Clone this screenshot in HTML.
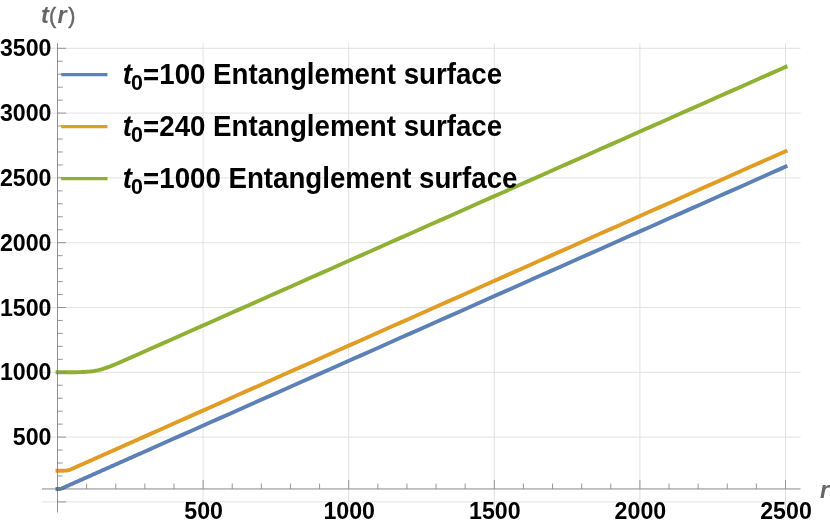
<!DOCTYPE html>
<html><head><meta charset="utf-8"><title>plot</title>
<style>
html,body{margin:0;padding:0;background:#fff;}
body{width:830px;height:528px;overflow:hidden;font-family:"Liberation Sans",sans-serif;}
svg{display:block;will-change:transform;}
text{font-family:"Liberation Sans",sans-serif;font-weight:bold;}
</style></head><body>
<svg width="830" height="528" viewBox="0 0 830 528">

<g stroke="#e2e2e2" stroke-width="1" fill="none">
<line x1="203.10" y1="43.30" x2="203.10" y2="512.50"/>
<line x1="348.70" y1="43.30" x2="348.70" y2="512.50"/>
<line x1="494.30" y1="43.30" x2="494.30" y2="512.50"/>
<line x1="639.90" y1="43.30" x2="639.90" y2="512.50"/>
<line x1="785.50" y1="43.30" x2="785.50" y2="512.50"/>
<line x1="42.00" y1="501.90" x2="800.60" y2="501.90"/>
<line x1="42.00" y1="437.10" x2="800.60" y2="437.10"/>
<line x1="42.00" y1="372.30" x2="800.60" y2="372.30"/>
<line x1="42.00" y1="307.50" x2="800.60" y2="307.50"/>
<line x1="42.00" y1="242.70" x2="800.60" y2="242.70"/>
<line x1="42.00" y1="177.90" x2="800.60" y2="177.90"/>
<line x1="42.00" y1="113.10" x2="800.60" y2="113.10"/>
<line x1="42.00" y1="48.30" x2="800.60" y2="48.30"/>
</g>
<g stroke="#b5b5b5" stroke-width="1" fill="none">
<line x1="57.50" y1="43.30" x2="57.50" y2="512.50"/>
<line x1="42.00" y1="488.94" x2="800.60" y2="488.94"/>
</g>
<g fill="none" stroke-width="3.9" stroke-linejoin="round" stroke-linecap="square">
<path stroke="#5E81B5" d="M57.50,489.00 L58.50,488.99 L59.50,488.95 L60.50,488.82 L61.50,488.51 L62.50,488.10 L63.50,487.66 L64.50,487.22 L65.50,486.78 L66.50,486.33 L67.50,485.89 L68.50,485.44 L69.50,485.00 L70.50,484.55 L71.50,484.11 L72.50,483.66 L73.50,483.22 L74.50,482.78 L75.50,482.33 L76.50,481.89 L77.50,481.44 L78.50,481.00 L79.50,480.55 L80.50,480.11 L81.50,479.66 L82.50,479.22 L83.50,478.77 L84.50,478.33 L85.50,477.88 L86.50,477.44 L87.50,477.00 L88.50,476.55 L89.50,476.11 L90.50,475.66 L91.50,475.22 L92.50,474.77 L93.50,474.33 L94.50,473.88 L95.50,473.44 L96.50,472.99 L97.50,472.55 L98.50,472.11 L99.50,471.66 L100.50,471.22 L101.50,470.77 L102.50,470.33 L103.50,469.88 L104.50,469.44 L105.50,468.99 L106.50,468.55 L107.50,468.10 L108.50,467.66 L109.50,467.21 L110.50,466.77 L111.50,466.33 L112.50,465.88 L113.50,465.44 L114.50,464.99 L115.50,464.55 L116.50,464.10 L117.50,463.66 L118.50,463.21 L119.50,462.77 L120.50,462.32 L121.50,461.88 L122.50,461.43 L123.50,460.99 L124.50,460.55 L125.50,460.10 L126.50,459.66 L127.50,459.21 L128.50,458.77 L129.50,458.32 L130.50,457.88 L131.50,457.43 L132.50,456.99 L133.50,456.54 L134.50,456.10 L135.50,455.65 L136.50,455.21 L137.50,454.77 L138.50,454.32 L139.50,453.88 L140.50,453.43 L150.50,448.99 L160.50,444.54 L170.50,440.09 L180.50,435.65 L190.50,431.20 L200.50,426.76 L210.50,422.31 L220.50,417.86 L230.50,413.42 L240.50,408.97 L250.50,404.53 L260.50,400.08 L270.50,395.63 L280.50,391.19 L290.50,386.74 L300.50,382.30 L310.50,377.85 L320.50,373.40 L330.50,368.96 L340.50,364.51 L350.50,360.07 L360.50,355.62 L370.50,351.17 L380.50,346.73 L390.50,342.28 L400.50,337.84 L410.50,333.39 L420.50,328.94 L430.50,324.50 L440.50,320.05 L450.50,315.61 L460.50,311.16 L470.50,306.71 L480.50,302.27 L490.50,297.82 L500.50,293.38 L510.50,288.93 L520.50,284.48 L530.50,280.04 L540.50,275.59 L550.50,271.15 L560.50,266.70 L570.50,262.25 L580.50,257.81 L590.50,253.36 L600.50,248.92 L610.50,244.47 L620.50,240.02 L630.50,235.58 L640.50,231.13 L650.50,226.69 L660.50,222.24 L670.50,217.79 L680.50,213.35 L690.50,208.90 L700.50,204.46 L710.50,200.01 L720.50,195.56 L730.50,191.12 L740.50,186.67 L750.50,182.23 L760.50,177.78 L770.50,173.33 L780.50,168.89 L785.60,166.62"/>
<path stroke="#E19C24" d="M57.50,470.70 L58.50,470.70 L59.50,470.70 L60.50,470.70 L61.50,470.70 L62.50,470.69 L63.50,470.69 L64.50,470.67 L65.50,470.63 L66.50,470.55 L67.50,470.40 L68.50,470.16 L69.50,469.84 L70.50,469.46 L71.50,469.04 L72.50,468.61 L73.50,468.17 L74.50,467.73 L75.50,467.28 L76.50,466.84 L77.50,466.40 L78.50,465.95 L79.50,465.51 L80.50,465.06 L81.50,464.62 L82.50,464.17 L83.50,463.72 L84.50,463.28 L85.50,462.83 L86.50,462.39 L87.50,461.94 L88.50,461.50 L89.50,461.05 L90.50,460.61 L91.50,460.16 L92.50,459.72 L93.50,459.27 L94.50,458.83 L95.50,458.38 L96.50,457.94 L97.50,457.49 L98.50,457.05 L99.50,456.60 L100.50,456.16 L101.50,455.71 L102.50,455.27 L103.50,454.82 L104.50,454.38 L105.50,453.93 L106.50,453.49 L107.50,453.04 L108.50,452.60 L109.50,452.15 L110.50,451.71 L111.50,451.26 L112.50,450.82 L113.50,450.37 L114.50,449.93 L115.50,449.48 L116.50,449.04 L117.50,448.59 L118.50,448.15 L119.50,447.70 L120.50,447.26 L121.50,446.81 L122.50,446.36 L123.50,445.92 L124.50,445.47 L125.50,445.03 L126.50,444.58 L127.50,444.14 L128.50,443.69 L129.50,443.25 L130.50,442.80 L131.50,442.36 L132.50,441.91 L133.50,441.47 L134.50,441.02 L135.50,440.58 L136.50,440.13 L137.50,439.69 L138.50,439.24 L139.50,438.80 L140.50,438.35 L150.50,433.90 L160.50,429.45 L170.50,425.00 L180.50,420.55 L190.50,416.10 L200.50,411.64 L210.50,407.19 L220.50,402.74 L230.50,398.29 L240.50,393.84 L250.50,389.39 L260.50,384.94 L270.50,380.49 L280.50,376.03 L290.50,371.58 L300.50,367.13 L310.50,362.68 L320.50,358.23 L330.50,353.78 L340.50,349.33 L350.50,344.88 L360.50,340.42 L370.50,335.97 L380.50,331.52 L390.50,327.07 L400.50,322.62 L410.50,318.17 L420.50,313.72 L430.50,309.26 L440.50,304.81 L450.50,300.36 L460.50,295.91 L470.50,291.46 L480.50,287.01 L490.50,282.56 L500.50,278.11 L510.50,273.65 L520.50,269.20 L530.50,264.75 L540.50,260.30 L550.50,255.85 L560.50,251.40 L570.50,246.95 L580.50,242.50 L590.50,238.04 L600.50,233.59 L610.50,229.14 L620.50,224.69 L630.50,220.24 L640.50,215.79 L650.50,211.34 L660.50,206.88 L670.50,202.43 L680.50,197.98 L690.50,193.53 L700.50,189.08 L710.50,184.63 L720.50,180.18 L730.50,175.73 L740.50,171.27 L750.50,166.82 L760.50,162.37 L770.50,157.92 L780.50,153.47 L785.60,151.20"/>
<path stroke="#8FB032" d="M57.50,372.29 L58.50,372.29 L59.50,372.29 L60.50,372.29 L61.50,372.29 L62.50,372.29 L63.50,372.28 L64.50,372.28 L65.50,372.28 L66.50,372.28 L67.50,372.27 L68.50,372.27 L69.50,372.26 L70.50,372.26 L71.50,372.25 L72.50,372.24 L73.50,372.23 L74.50,372.22 L75.50,372.21 L76.50,372.19 L77.50,372.17 L78.50,372.15 L79.50,372.13 L80.50,372.10 L81.50,372.07 L82.50,372.03 L83.50,371.99 L84.50,371.94 L85.50,371.89 L86.50,371.82 L87.50,371.75 L88.50,371.67 L89.50,371.58 L90.50,371.47 L91.50,371.35 L92.50,371.22 L93.50,371.08 L94.50,370.92 L95.50,370.74 L96.50,370.54 L97.50,370.33 L98.50,370.11 L99.50,369.86 L100.50,369.60 L101.50,369.32 L102.50,369.03 L103.50,368.72 L104.50,368.40 L105.50,368.06 L106.50,367.71 L107.50,367.35 L108.50,366.99 L109.50,366.61 L110.50,366.22 L111.50,365.83 L112.50,365.43 L113.50,365.02 L114.50,364.61 L115.50,364.20 L116.50,363.78 L117.50,363.35 L118.50,362.93 L119.50,362.50 L120.50,362.07 L121.50,361.64 L122.50,361.21 L123.50,360.77 L124.50,360.33 L125.50,359.90 L126.50,359.46 L127.50,359.02 L128.50,358.58 L129.50,358.14 L130.50,357.70 L131.50,357.26 L132.50,356.82 L133.50,356.37 L134.50,355.93 L135.50,355.49 L136.50,355.05 L137.50,354.60 L138.50,354.16 L139.50,353.72 L140.50,353.27 L150.50,348.84 L160.50,344.40 L170.50,339.96 L180.50,335.52 L190.50,331.08 L200.50,326.64 L210.50,322.20 L220.50,317.76 L230.50,313.32 L240.50,308.88 L250.50,304.45 L260.50,300.01 L270.50,295.57 L280.50,291.13 L290.50,286.69 L300.50,282.25 L310.50,277.81 L320.50,273.37 L330.50,268.93 L340.50,264.49 L350.50,260.05 L360.50,255.61 L370.50,251.17 L380.50,246.73 L390.50,242.30 L400.50,237.86 L410.50,233.42 L420.50,228.98 L430.50,224.54 L440.50,220.10 L450.50,215.66 L460.50,211.22 L470.50,206.78 L480.50,202.34 L490.50,197.90 L500.50,193.46 L510.50,189.02 L520.50,184.58 L530.50,180.14 L540.50,175.71 L550.50,171.27 L560.50,166.83 L570.50,162.39 L580.50,157.95 L590.50,153.51 L600.50,149.07 L610.50,144.63 L620.50,140.19 L630.50,135.75 L640.50,131.31 L650.50,126.87 L660.50,122.43 L670.50,117.99 L680.50,113.56 L690.50,109.12 L700.50,104.68 L710.50,100.24 L720.50,95.80 L730.50,91.36 L740.50,86.92 L750.50,82.48 L760.50,78.04 L770.50,73.60 L780.50,69.16 L785.60,66.90"/>
</g>
<g stroke="#858585" stroke-width="0.85" fill="none">
<line x1="57.50" y1="43.30" x2="57.50" y2="512.50" stroke="#000" stroke-opacity="0.2" stroke-width="1"/>
<line x1="42.00" y1="488.94" x2="800.60" y2="488.94" stroke="#000" stroke-opacity="0.2" stroke-width="1"/>
<line x1="86.62" y1="488.94" x2="86.62" y2="483.54"/>
<line x1="115.74" y1="488.94" x2="115.74" y2="483.54"/>
<line x1="144.86" y1="488.94" x2="144.86" y2="483.54"/>
<line x1="173.98" y1="488.94" x2="173.98" y2="483.54"/>
<line x1="203.10" y1="488.94" x2="203.10" y2="480.14"/>
<line x1="232.22" y1="488.94" x2="232.22" y2="483.54"/>
<line x1="261.34" y1="488.94" x2="261.34" y2="483.54"/>
<line x1="290.46" y1="488.94" x2="290.46" y2="483.54"/>
<line x1="319.58" y1="488.94" x2="319.58" y2="483.54"/>
<line x1="348.70" y1="488.94" x2="348.70" y2="480.14"/>
<line x1="377.82" y1="488.94" x2="377.82" y2="483.54"/>
<line x1="406.94" y1="488.94" x2="406.94" y2="483.54"/>
<line x1="436.06" y1="488.94" x2="436.06" y2="483.54"/>
<line x1="465.18" y1="488.94" x2="465.18" y2="483.54"/>
<line x1="494.30" y1="488.94" x2="494.30" y2="480.14"/>
<line x1="523.42" y1="488.94" x2="523.42" y2="483.54"/>
<line x1="552.54" y1="488.94" x2="552.54" y2="483.54"/>
<line x1="581.66" y1="488.94" x2="581.66" y2="483.54"/>
<line x1="610.78" y1="488.94" x2="610.78" y2="483.54"/>
<line x1="639.90" y1="488.94" x2="639.90" y2="480.14"/>
<line x1="669.02" y1="488.94" x2="669.02" y2="483.54"/>
<line x1="698.14" y1="488.94" x2="698.14" y2="483.54"/>
<line x1="727.26" y1="488.94" x2="727.26" y2="483.54"/>
<line x1="756.38" y1="488.94" x2="756.38" y2="483.54"/>
<line x1="785.50" y1="488.94" x2="785.50" y2="480.14"/>
<line x1="57.50" y1="501.90" x2="66.10" y2="501.90"/>
<line x1="57.50" y1="488.94" x2="62.70" y2="488.94"/>
<line x1="57.50" y1="475.98" x2="62.70" y2="475.98"/>
<line x1="57.50" y1="463.02" x2="62.70" y2="463.02"/>
<line x1="57.50" y1="450.06" x2="62.70" y2="450.06"/>
<line x1="57.50" y1="437.10" x2="66.10" y2="437.10"/>
<line x1="57.50" y1="424.14" x2="62.70" y2="424.14"/>
<line x1="57.50" y1="411.18" x2="62.70" y2="411.18"/>
<line x1="57.50" y1="398.22" x2="62.70" y2="398.22"/>
<line x1="57.50" y1="385.26" x2="62.70" y2="385.26"/>
<line x1="57.50" y1="372.30" x2="66.10" y2="372.30"/>
<line x1="57.50" y1="359.34" x2="62.70" y2="359.34"/>
<line x1="57.50" y1="346.38" x2="62.70" y2="346.38"/>
<line x1="57.50" y1="333.42" x2="62.70" y2="333.42"/>
<line x1="57.50" y1="320.46" x2="62.70" y2="320.46"/>
<line x1="57.50" y1="307.50" x2="66.10" y2="307.50"/>
<line x1="57.50" y1="294.54" x2="62.70" y2="294.54"/>
<line x1="57.50" y1="281.58" x2="62.70" y2="281.58"/>
<line x1="57.50" y1="268.62" x2="62.70" y2="268.62"/>
<line x1="57.50" y1="255.66" x2="62.70" y2="255.66"/>
<line x1="57.50" y1="242.70" x2="66.10" y2="242.70"/>
<line x1="57.50" y1="229.74" x2="62.70" y2="229.74"/>
<line x1="57.50" y1="216.78" x2="62.70" y2="216.78"/>
<line x1="57.50" y1="203.82" x2="62.70" y2="203.82"/>
<line x1="57.50" y1="190.86" x2="62.70" y2="190.86"/>
<line x1="57.50" y1="177.90" x2="66.10" y2="177.90"/>
<line x1="57.50" y1="164.94" x2="62.70" y2="164.94"/>
<line x1="57.50" y1="151.98" x2="62.70" y2="151.98"/>
<line x1="57.50" y1="139.02" x2="62.70" y2="139.02"/>
<line x1="57.50" y1="126.06" x2="62.70" y2="126.06"/>
<line x1="57.50" y1="113.10" x2="66.10" y2="113.10"/>
<line x1="57.50" y1="100.14" x2="62.70" y2="100.14"/>
<line x1="57.50" y1="87.18" x2="62.70" y2="87.18"/>
<line x1="57.50" y1="74.22" x2="62.70" y2="74.22"/>
<line x1="57.50" y1="61.26" x2="62.70" y2="61.26"/>
<line x1="57.50" y1="48.30" x2="66.10" y2="48.30"/>
</g>
<g font-size="23.2" fill="#000">
<text transform="matrix(1 0 0 1.040 0 -17.812)" y="445.30" x="51.5" text-anchor="end">500</text>
<text transform="matrix(1 0 0 1.040 0 -15.220)" y="380.50" x="51.5" text-anchor="end">1000</text>
<text transform="matrix(1 0 0 1.040 0 -12.628)" y="315.70" x="51.5" text-anchor="end">1500</text>
<text transform="matrix(1 0 0 1.040 0 -10.036)" y="250.90" x="51.5" text-anchor="end">2000</text>
<text transform="matrix(1 0 0 1.040 0 -7.444)" y="186.10" x="51.5" text-anchor="end">2500</text>
<text transform="matrix(1 0 0 1.040 0 -4.852)" y="121.30" x="51.5" text-anchor="end">3000</text>
<text transform="matrix(1 0 0 1.040 0 -2.260)" y="56.50" x="51.5" text-anchor="end">3500</text>
<text transform="matrix(1 0 0 1.040 0 -20.768)" y="519.20" x="203.60" text-anchor="middle">500</text>
<text transform="matrix(1 0 0 1.040 0 -20.768)" y="519.20" x="349.20" text-anchor="middle">1000</text>
<text transform="matrix(1 0 0 1.040 0 -20.768)" y="519.20" x="494.80" text-anchor="middle">1500</text>
<text transform="matrix(1 0 0 1.040 0 -20.768)" y="519.20" x="640.40" text-anchor="middle">2000</text>
<text transform="matrix(1 0 0 1.040 0 -20.768)" y="519.20" x="786.00" text-anchor="middle">2500</text>
</g>
<g font-size="23.5" fill="#666">
<text transform="matrix(1 0 0 1.040 0 -0.912)" y="22.80" ><tspan x="41.0" font-style="italic">t</tspan><tspan x="49.0" font-size="21.5" font-weight="normal" stroke="#666" stroke-width="0.45">(</tspan><tspan x="57.6" font-style="italic">r</tspan><tspan x="68.2" font-size="21.5" font-weight="normal" stroke="#666" stroke-width="0.45">)</tspan></text>
<text transform="matrix(1 0 0 1.040 0 -19.940)" y="498.50" x="820.1" font-style="italic">r</text>
</g>
<g font-size="27.68" fill="#000">
<text transform="matrix(1 0 0 1.040 0 -3.364)" y="84.10" ><tspan x="122.7" font-style="italic">t</tspan><tspan x="130.9" font-size="21.4" dy="5.7">0</tspan><tspan x="143.1" dy="-4.5">=</tspan><tspan dy="-1.2">100 Entanglement surface</tspan></text>
<text transform="matrix(1 0 0 1.040 0 -5.444)" y="136.10" ><tspan x="122.7" font-style="italic">t</tspan><tspan x="130.9" font-size="21.4" dy="5.7">0</tspan><tspan x="143.1" dy="-4.5">=</tspan><tspan dy="-1.2">240 Entanglement surface</tspan></text>
<text transform="matrix(1 0 0 1.040 0 -7.528)" y="188.20" ><tspan x="122.7" font-style="italic">t</tspan><tspan x="130.9" font-size="21.4" dy="5.7">0</tspan><tspan x="143.1" dy="-4.5">=</tspan><tspan dy="-1.2">1000 Entanglement surface</tspan></text>
</g>
<line x1="61.2" y1="74.60" x2="107.5" y2="74.60" stroke="#5E81B5" stroke-width="3.3"/>
<line x1="61.2" y1="126.60" x2="107.5" y2="126.60" stroke="#E19C24" stroke-width="3.3"/>
<line x1="61.2" y1="178.70" x2="107.5" y2="178.70" stroke="#8FB032" stroke-width="3.3"/>
</svg></body></html>
